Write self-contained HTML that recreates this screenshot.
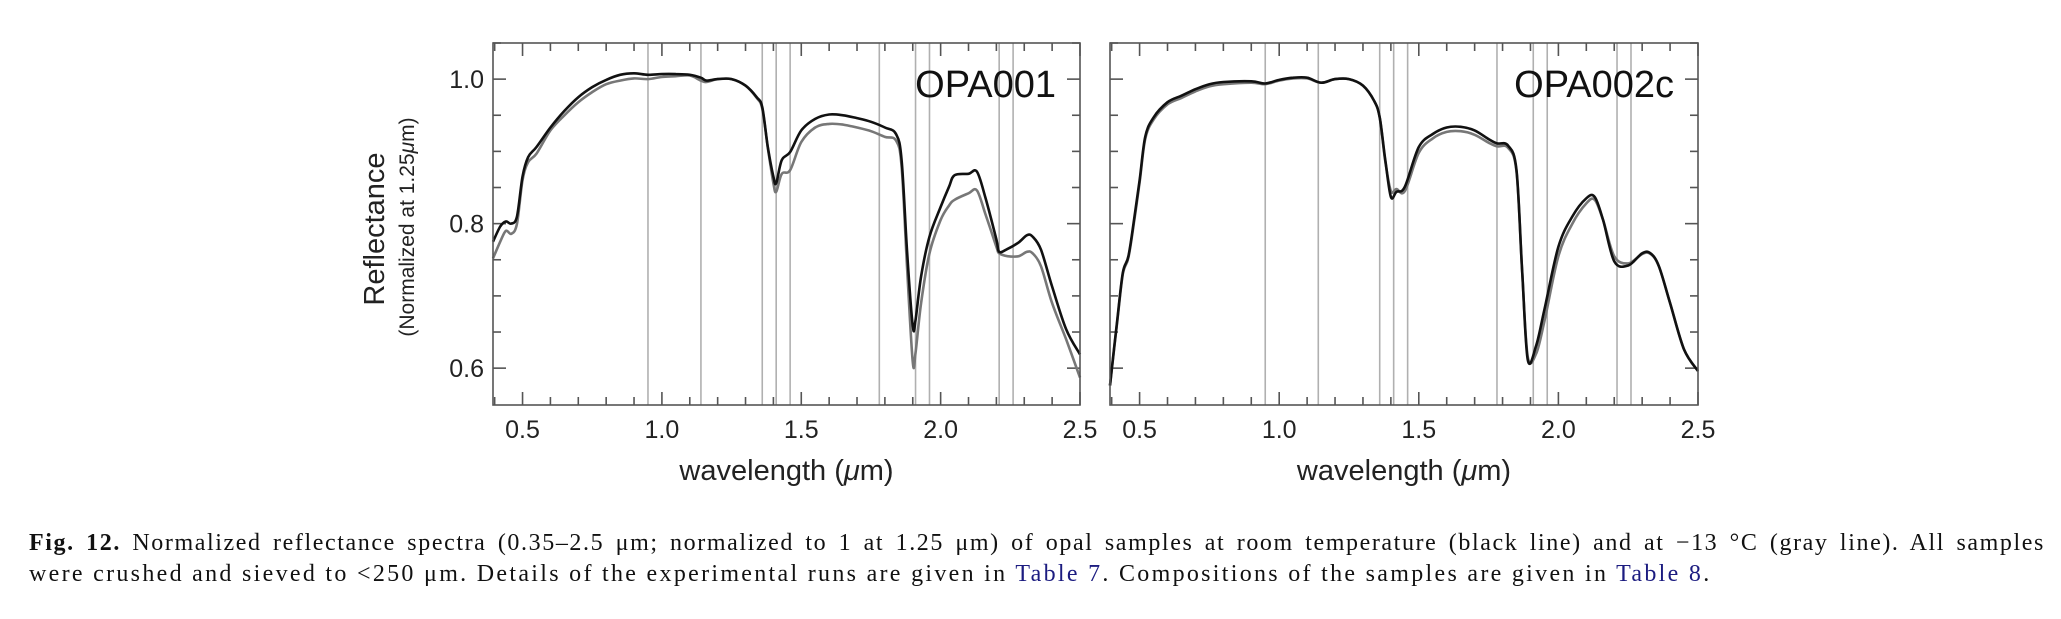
<!DOCTYPE html>
<html><head><meta charset="utf-8"><style>
body{margin:0;background:#fff;width:2061px;height:619px;overflow:hidden;position:relative}
svg{position:absolute;left:0;top:0}
.cap{position:absolute;left:29px;font-family:"Liberation Serif","DejaVu Serif",serif;font-size:24px;letter-spacing:2.3px;color:#111;white-space:nowrap}
.l1{top:530px;width:2016px;text-align:justify;text-align-last:justify;letter-spacing:1.6px}
.l2{top:561px}
a{color:#1c1c80;text-decoration:none}
</style></head><body>
<svg id="chart" width="2061" height="619"></svg>
<div class="cap l1"><b>Fig. 12.</b> Normalized reflectance spectra (0.35–2.5 μm; normalized to 1 at 1.25 μm) of opal samples at room temperature (black line) and at −13 °C (gray line). All samples</div>
<div class="cap l2">were crushed and sieved to &lt;250 μm. Details of the experimental runs are given in <a>Table 7</a>. Compositions of the samples are given in <a>Table 8</a>.</div>
<script>
const xTicks=[0.5,1.0,1.5,2.0,2.5];
const xTickLabels=["0.5","1.0","1.5","2.0","2.5"];
const yTicks=[0.6,0.8,1.0];
const yTickLabels=["0.6","0.8","1.0"];
const bandLines=[0.95,1.14,1.36,1.41,1.46,1.78,1.91,1.96,2.21,2.26];
const wlA=[0.394,0.42,0.44,0.46,0.48,0.50,0.52,0.55,0.6,0.65,0.7,0.75,0.8,0.85,0.9,0.95,1.0,1.05,1.1,1.14,1.16,1.2,1.25,1.3,1.34,1.36,1.38,1.40,1.41,1.43,1.46,1.5,1.55,1.6,1.65,1.7,1.75,1.8,1.84,1.86,1.88,1.90,1.91,1.93,1.96,2.0,2.03,2.05,2.1,2.13,2.16,2.2,2.21,2.24,2.28,2.31,2.33,2.36,2.4,2.45,2.5];
const roomA=[0.775,0.796,0.803,0.800,0.81,0.865,0.892,0.906,0.933,0.956,0.975,0.989,0.999,1.006,1.008,1.006,1.007,1.007,1.006,1.002,0.998,1.0,1.0,0.991,0.975,0.961,0.906,0.865,0.856,0.888,0.899,0.929,0.945,0.951,0.95,0.946,0.941,0.933,0.924,0.888,0.759,0.658,0.667,0.727,0.782,0.823,0.851,0.867,0.869,0.872,0.837,0.778,0.761,0.765,0.774,0.784,0.782,0.764,0.713,0.654,0.619];
const coldA=[0.752,0.775,0.79,0.786,0.80,0.86,0.885,0.897,0.929,0.950,0.968,0.982,0.993,0.998,1.001,1.0,1.003,1.004,1.005,0.998,0.996,1.0,1.0,0.991,0.974,0.959,0.905,0.856,0.844,0.869,0.874,0.913,0.933,0.938,0.937,0.933,0.928,0.92,0.915,0.879,0.736,0.608,0.622,0.69,0.759,0.805,0.825,0.833,0.842,0.846,0.814,0.768,0.759,0.755,0.755,0.761,0.759,0.741,0.69,0.64,0.587];
const wlB=[0.394,0.42,0.44,0.46,0.48,0.50,0.52,0.55,0.6,0.65,0.7,0.75,0.8,0.9,0.95,1.0,1.05,1.1,1.15,1.2,1.25,1.3,1.34,1.36,1.38,1.40,1.42,1.45,1.5,1.55,1.6,1.65,1.7,1.75,1.78,1.82,1.85,1.87,1.89,1.92,1.95,2.0,2.05,2.1,2.13,2.16,2.2,2.25,2.3,2.33,2.36,2.4,2.45,2.5];
const roomB=[0.576,0.667,0.732,0.755,0.805,0.86,0.92,0.947,0.968,0.977,0.986,0.993,0.996,0.997,0.994,0.999,1.002,1.002,0.995,1.0,1.0,0.991,0.970,0.947,0.888,0.837,0.844,0.851,0.906,0.924,0.933,0.934,0.929,0.917,0.911,0.908,0.874,0.736,0.612,0.631,0.681,0.768,0.81,0.835,0.837,0.805,0.748,0.742,0.759,0.759,0.741,0.69,0.626,0.596];
const coldB=[0.576,0.665,0.73,0.753,0.802,0.857,0.917,0.944,0.965,0.974,0.983,0.990,0.993,0.995,0.993,0.998,1.001,1.001,0.995,1.0,1.0,0.991,0.970,0.947,0.886,0.845,0.848,0.845,0.898,0.918,0.927,0.928,0.923,0.912,0.907,0.905,0.872,0.735,0.616,0.62,0.665,0.755,0.80,0.828,0.833,0.805,0.755,0.745,0.758,0.758,0.741,0.69,0.626,0.596];

const NS="http://www.w3.org/2000/svg";
const svg=document.getElementById('chart');
const XMIN=0.394,XMAX=2.5,YMIN=0.549,YMAX=1.050,TOP=43,BOT=405;
function mk(tag,attrs,parent){const e=document.createElementNS(NS,tag);for(const k in attrs)e.setAttribute(k,attrs[k]);(parent||svg).appendChild(e);return e;}
function smooth(pts){let d=`M${pts[0][0].toFixed(1)},${pts[0][1].toFixed(1)}`;for(let i=0;i<pts.length-1;i++){const p0=pts[Math.max(i-1,0)],p1=pts[i],p2=pts[i+1],p3=pts[Math.min(i+2,pts.length-1)];const c1=[p1[0]+(p2[0]-p0[0])/6,p1[1]+(p2[1]-p0[1])/6],c2=[p2[0]-(p3[0]-p1[0])/6,p2[1]-(p3[1]-p1[1])/6];d+=`C${c1[0].toFixed(1)},${c1[1].toFixed(1)} ${c2[0].toFixed(1)},${c2[1].toFixed(1)} ${p2[0].toFixed(1)},${p2[1].toFixed(1)}`;}return d;}
function panel(L,R,name,title,wl,room,cold,showY){
  const g=mk('g',{});
  
  
  const sx=v=>L+(v-XMIN)/(XMAX-XMIN)*(R-L);
  const sy=v=>BOT-(v-YMIN)/(YMAX-YMIN)*(BOT-TOP);
  bandLines.forEach(b=>{const l=mk('line',{x1:sx(b),x2:sx(b),y1:TOP,y2:BOT,stroke:'#b0b0b0','stroke-width':1.6},g);
    
    });
  for(let v=0.4;v<=2.501;v+=0.1){const x=sx(v);const maj=Math.abs(v*2-Math.round(v*2))<1e-6;const len=maj?13:8;
    mk('line',{x1:x,x2:x,y1:BOT,y2:BOT-len,stroke:'#555','stroke-width':1.6},g);
    mk('line',{x1:x,x2:x,y1:TOP,y2:TOP+len,stroke:'#555','stroke-width':1.6},g);}
  for(let v=0.6;v<=1.0501;v+=0.05){const y=sy(v);const maj=Math.abs(v*5-Math.round(v*5))<1e-6;const len=maj?13:8;
    mk('line',{x1:L,x2:L+len,y1:y,y2:y,stroke:'#555','stroke-width':1.6},g);
    mk('line',{x1:R,x2:R-len,y1:y,y2:y,stroke:'#555','stroke-width':1.6},g);}
  xTicks.forEach((t,i)=>{const tx=mk('text',{x:sx(t),y:438,'text-anchor':'middle','font-family':'Liberation Sans, sans-serif','font-size':25,fill:'#222'},g);tx.textContent=xTickLabels[i];
    
    });
  if(showY){yTicks.forEach((t,i)=>{const tx=mk('text',{x:484,y:sy(t)+9,'text-anchor':'end','font-family':'Liberation Sans, sans-serif','font-size':25,fill:'#222'},g);tx.textContent=yTickLabels[i];
    
    });}
  const cp=mk('path',{d:smooth(wl.map((w,i)=>[sx(w),sy(cold[i])])),fill:'none',stroke:'#777','stroke-width':2.6,'stroke-linejoin':'round'},g);
  
  
  const rp=mk('path',{d:smooth(wl.map((w,i)=>[sx(w),sy(room[i])])),fill:'none',stroke:'#111','stroke-width':2.6,'stroke-linejoin':'round'},g);
  
  
  const fr=mk('rect',{x:L,y:TOP,width:R-L,height:BOT-TOP,fill:'none',stroke:'#555','stroke-width':1.6},g);
  
  
  const tt=mk('text',{x:R-24,y:97,'text-anchor':'end','font-family':'Liberation Sans, sans-serif','font-size':38,fill:'#111'},g);tt.textContent=title;
  
  
  const xt=mk('text',{x:(L+R)/2,y:480,'text-anchor':'middle','font-family':'Liberation Sans, sans-serif','font-size':29,fill:'#222'},g);
  xt.innerHTML='wavelength (<tspan font-style="italic">μ</tspan>m)';
  
  
}
panel(493,1080,'panel-opa001','OPA001',wlA,roomA,coldA,true);
panel(1110,1698,'panel-opa002c','OPA002c',wlB,roomB,coldB,false);
const yt=mk('text',{x:0,y:0,transform:'translate(384,229) rotate(-90)','text-anchor':'middle','font-family':'Liberation Sans, sans-serif','font-size':29,fill:'#222'});
yt.textContent='Reflectance';


const ys=mk('text',{x:0,y:0,transform:'translate(414,227) rotate(-90)','text-anchor':'middle','font-family':'Liberation Sans, sans-serif','font-size':21,fill:'#222'});
ys.innerHTML='(Normalized at 1.25<tspan font-style="italic">μ</tspan>m)';


</script>
</body></html>
